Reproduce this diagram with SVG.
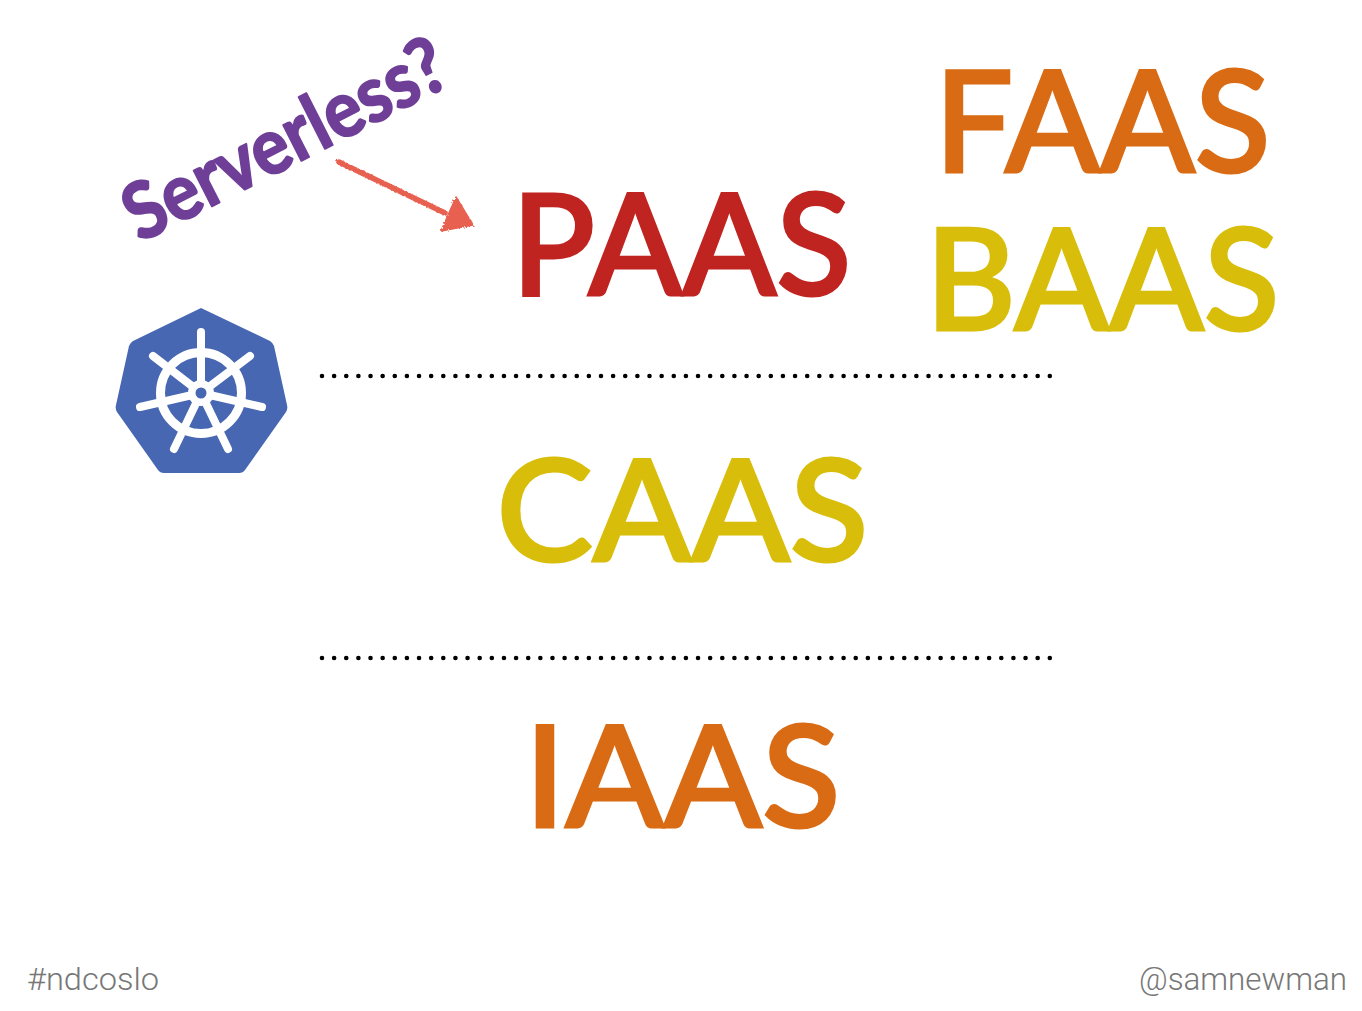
<svg xmlns="http://www.w3.org/2000/svg" width="1362" height="1011" viewBox="0 0 1362 1011">
<style>
.big{font-family:"Lato","Liberation Sans",sans-serif;font-size:141px;font-weight:500;stroke-width:3;stroke-linejoin:miter}
.o{fill:#D96B14;stroke:#D96B14}.y{fill:#D8BD0A;stroke:#D8BD0A}.r{fill:#C02420;stroke:#C02420}
.foot{font-family:"Roboto","Liberation Sans",sans-serif;font-size:32px;font-weight:300;fill:#777}
.dots{fill:none;stroke:#000;stroke-width:4.6;stroke-linecap:round;stroke-dasharray:0 12.13}
.spoke{stroke:#fff;stroke-width:8;stroke-linecap:round;fill:none}
</style>
<defs>
<filter id="chalk" x="-10%" y="-10%" width="120%" height="120%">
<feTurbulence type="fractalNoise" baseFrequency="0.5" numOctaves="2" seed="3"/>
<feDisplacementMap in="SourceGraphic" scale="3.5"/>
</filter>
</defs>
<rect width="1362" height="1011" fill="#fff"/>
<g id="paas"><text class="big r" x="511.5" y="295" textLength="340" lengthAdjust="spacingAndGlyphs">PAAS</text></g>
<g id="faas"><text class="big o" x="934.5" y="172" textLength="336" lengthAdjust="spacingAndGlyphs">FAAS</text></g>
<g id="baas"><text class="big y" x="925.5" y="330" textLength="354" lengthAdjust="spacingAndGlyphs">BAAS</text></g>
<g id="caas"><text class="big y" x="496.5" y="561" textLength="372" lengthAdjust="spacingAndGlyphs">CAAS</text></g>
<g id="iaas"><text class="big o" x="524.5" y="827" textLength="316" lengthAdjust="spacingAndGlyphs">IAAS</text></g>
<g id="serverless"><text transform="translate(140 243) rotate(-27)" font-family="Lato,'Liberation Sans',sans-serif" font-weight="700" font-size="78" fill="#6F3F98" stroke="#6F3F98" stroke-width="2" stroke-linejoin="round" textLength="352" lengthAdjust="spacingAndGlyphs">Serverless?</text></g>
<g id="kubernetes">
<path d="M201 308L270 341Q273 343 274 346L287 405Q288 409 286 412L245 470Q243 473 239 473L164 473Q160 473 158 470L117 412Q115 409 116 405L129 346Q130 343 133 341Z" fill="#4767B3"/>
<circle cx="201" cy="393" r="40.5" fill="none" stroke="#fff" stroke-width="9"/>
<g class="spoke">
<path d="M201 393V332"/><path d="M201 393L153 356"/><path d="M201 393L250 356"/><path d="M201 393L140 407"/><path d="M201 393L262 407"/><path d="M201 393L174 449"/><path d="M201 393L228 449"/>
</g>
<circle cx="201" cy="393" r="13" fill="#fff"/>
<circle cx="201" cy="393" r="5.5" fill="#4767B3"/>
</g>
<g id="connectors">
<path class="dots" d="M322 376H1052"/>
<path class="dots" d="M322 658H1052"/>
<g filter="url(#chalk)">
<path d="M339 162L445 213" fill="none" stroke="#E8604F" stroke-width="5.5" stroke-linecap="round"/>
<path d="M456 197L473 225L441 231Z" fill="#E8604F" stroke="#E8604F" stroke-width="1.5" stroke-linejoin="round"/>
</g>
</g>
<g id="footer">
<text class="foot" x="27" y="990" textLength="132" lengthAdjust="spacingAndGlyphs">#ndcoslo</text>
<text class="foot" x="1139" y="990" textLength="208" lengthAdjust="spacingAndGlyphs">@samnewman</text>
</g>
</svg>
